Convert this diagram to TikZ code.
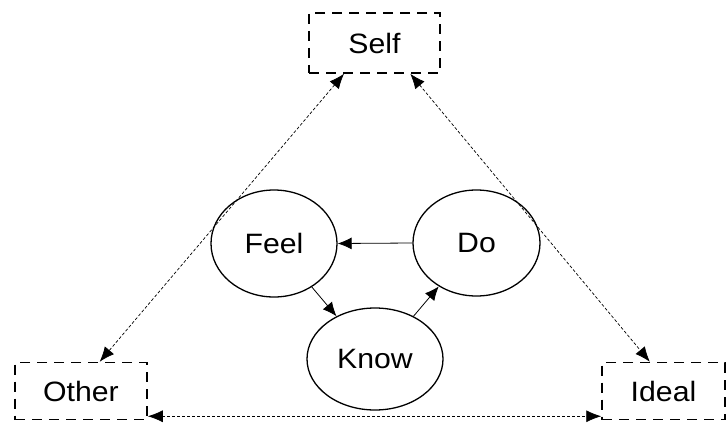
\documentclass[tikz,border=0pt]{standalone}
\usepackage{fontspec}
\setmainfont[FakeStretch=1.08]{Liberation Sans}
\usetikzlibrary{shapes.geometric,arrows.meta,calc}
\begin{document}
\begin{tikzpicture}[x=1pt,y=1pt,
  box/.style={draw,line width=1.5pt,dash pattern=on 10pt off 7pt,inner sep=0pt,font=\fontsize{28}{32}\selectfont},
  circ/.style={draw,ellipse,line width=1.3pt,inner sep=0pt,font=\fontsize{28}{32}\selectfont},
  link/.style={line width=0.7pt,dash pattern=on 3pt off 2pt,{Latex[length=15pt,width=12pt]}-{Latex[length=15pt,width=12pt]}},
  flow/.style={line width=0.8pt,-{Latex[length=14pt,width=12pt]}}]
\useasboundingbox (0,0) rectangle (727,424);
\node[box,minimum width=131pt,minimum height=60pt] (self) at (374.5,381) {Self};
\node[box,minimum width=132pt,minimum height=57pt] (other) at (81,33) {Other};
\node[box,minimum width=123pt,minimum height=57pt] (ideal) at (663.5,33) {Ideal};
\node[circ,minimum width=126pt,minimum height=107pt] (feel) at (274,180.5) {Feel};
\node[circ,minimum width=127pt,minimum height=106pt] (do) at (476.5,181) {Do};
\node[circ,minimum width=136pt,minimum height=102pt] (know) at (375,65) {Know};
\draw[link] ($(self.south west)!0.27!(self.south east)$) -- ($(other.north west)!0.64!(other.north east)$);
\draw[link] ($(self.south west)!0.77!(self.south east)$) -- ($(ideal.north west)!0.39!(ideal.north east)$);
\draw[link] ($(other.south east)+(0,4)$) -- ($(ideal.south west)+(0,4)$);
\draw[flow] (do.west) -- (feel.east);
\draw[flow] (feel.-49.5) -- (know.132);
\draw[flow] (know.48) -- (do.229.5);
\end{tikzpicture}
\end{document}
